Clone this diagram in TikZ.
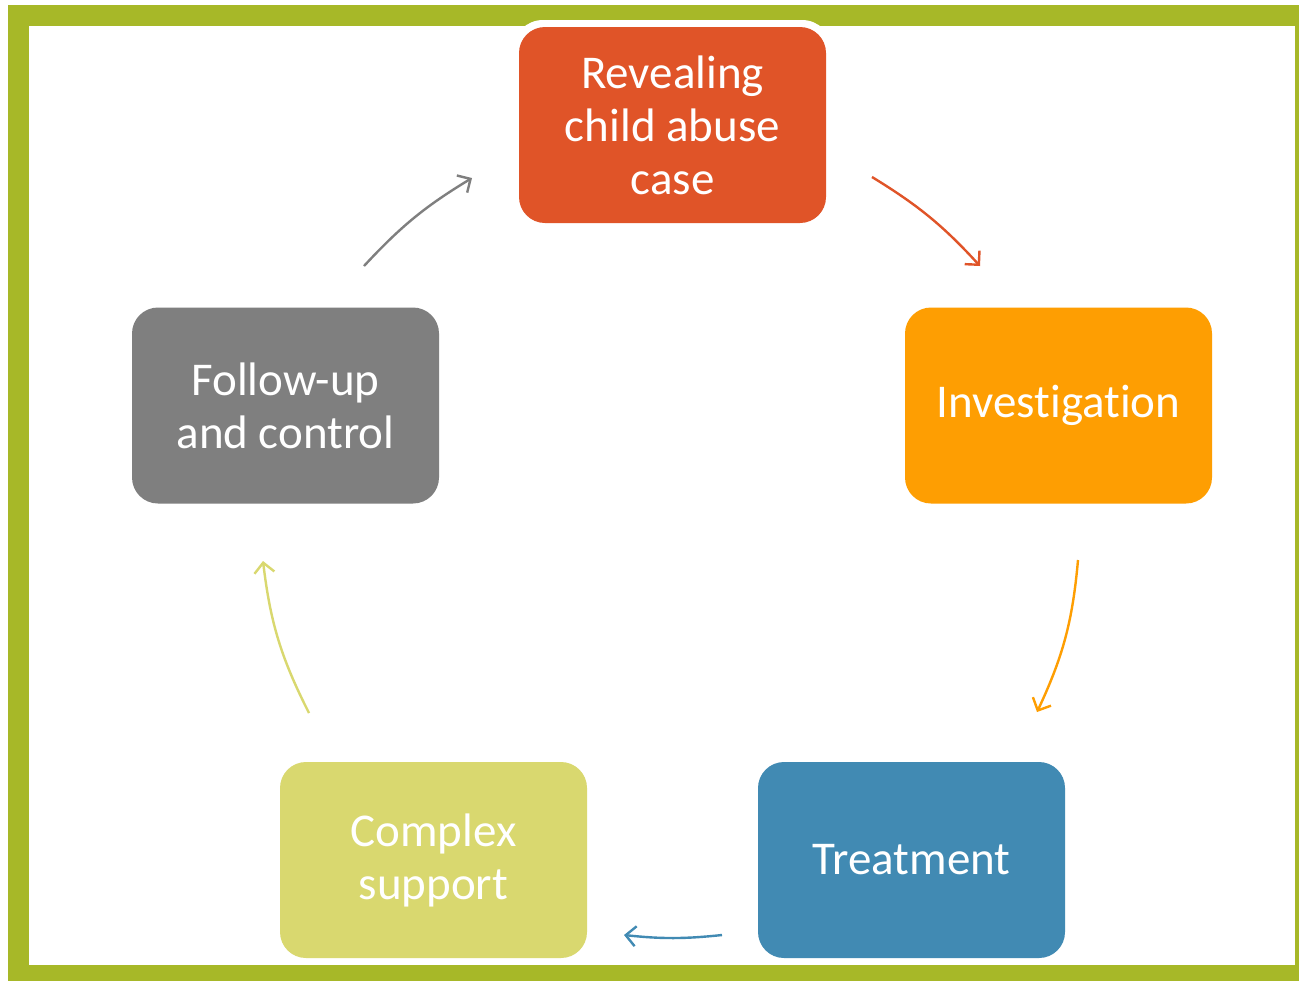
\documentclass[tikz,border=0pt]{standalone}
\usepackage{fontspec}
\setmainfont{Carlito}[Ligatures=NoCommon]
\usetikzlibrary{arrows.meta}
\definecolor{frame}{HTML}{A7B828}
\definecolor{cRed}{HTML}{E05428}
\definecolor{cOrange}{HTML}{FE9E02}
\definecolor{cBlue}{HTML}{418AB3}
\definecolor{cYellow}{HTML}{D9D86F}
\definecolor{cGray}{HTML}{7F7F7F}
\tikzset{
  stepbox/.style={rounded corners=13pt, minimum width=153.5pt, minimum height=98pt,
    text=white, align=center, font=\fontsize{23.5}{26.5}\selectfont, inner sep=0pt},
  conn/.style={line width=1.2pt, -{Straight Barb[length=5pt,width=10pt,line width=1.2pt]}}
}
\begin{document}
\begin{tikzpicture}[x=0.5pt,y=-0.5pt]
\useasboundingbox (0,0) rectangle (1299,981);
\fill[white] (0,0) rectangle (1299,981);
\fill[frame] (8,5) rectangle (1299,981);
\fill[white] (29,26) rectangle (1295,965);
% white halo around top box
\fill[white, rounded corners=15pt] (513,20) rectangle (832,229);
\node[stepbox, fill=cRed] (rev) at (672.5,125) {Revealing\\child abuse\\case};
\node[stepbox, fill=cOrange] (inv) at (1058.5,405.5) {Investigation};
\node[stepbox, fill=cBlue] (tre) at (911.5,860) {Treatment};
\node[stepbox, fill=cYellow] (com) at (433.5,860) {Complex\\support};
\node[stepbox, fill=cGray] (fol) at (285.5,405.5) {Follow-up\\and control};
% arrow endpoints
\coordinate (a1s) at (872,177); \coordinate (a1e) at (980,266);
\coordinate (a2s) at (1078,560); \coordinate (a2e) at (1037,712);
\coordinate (a3s) at (722,935); \coordinate (a3e) at (624,935);
\coordinate (a4s) at (309,713); \coordinate (a4e) at (263,561);
\coordinate (a5s) at (364,266); \coordinate (a5e) at (472,178);
\draw[conn, cRed] (a1s) to[bend left=8] (a1e);
\draw[conn, cOrange] (a2s) to[bend left=10] (a2e);
\draw[conn, cBlue] (a3s) to[bend left=6] (a3e);
\draw[conn, cYellow] (a4s) to[bend left=10] (a4e);
\draw[conn, cGray] (a5s) to[bend left=8] (a5e);
\end{tikzpicture}
\end{document}
